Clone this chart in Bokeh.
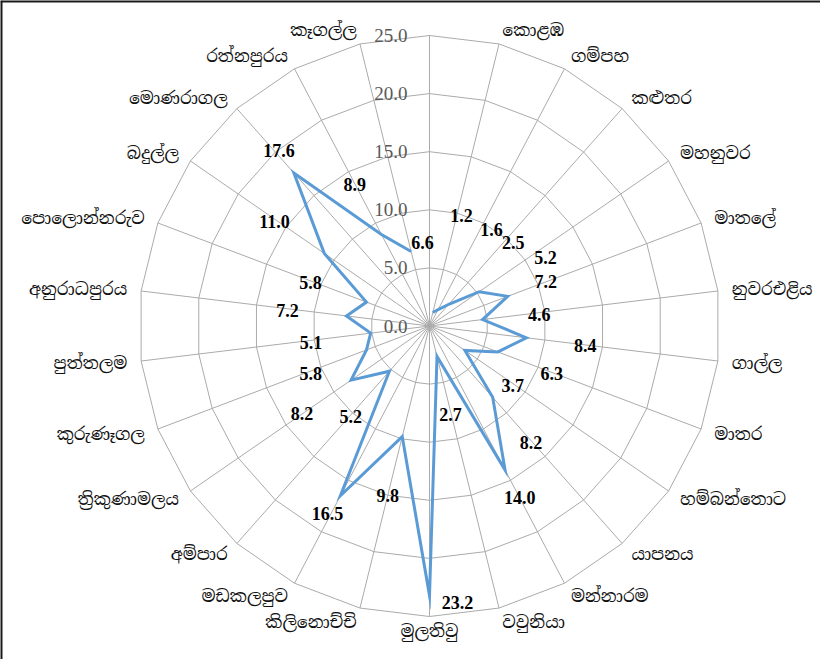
import numpy as np
from bokeh.plotting import figure
from bokeh.models import Range1d, Span
from bokeh.core.properties import value
from bokeh.embed import file_html
from bokeh.resources import INLINE

# ---- data (first slot is the blank top spoke of the source chart) ----
categories = ["", "කොළඹ", "ගම්පහ", "කළුතර", "මහනුවර", "මාතලේ", "නුවරඑළිය",
              "ගාල්ල", "මාතර", "හම්බන්තොට", "යාපනය", "මන්නාරම", "වවුනියා",
              "මුලතිවු", "කිලිනොච්චි", "මඩකලපුව", "අම්පාර", "ත්‍රිකුණාමලය",
              "කුරුණෑගල", "පුත්තලම", "අනුරාධපුරය", "පොලොන්නරුව", "බදුල්ල",
              "මොණරාගල", "රත්නපුරය", "කෑගල්ල"]
values = [None, 1.2, 1.6, 2.5, 5.2, 7.2, 4.6, 8.4, 6.3, 3.7, 8.2, 14.0, 2.7,
          23.2, 9.8, 16.5, 5.2, 8.2, 5.8, 5.1, 7.2, 5.8, 11.0, 17.6, 8.9, 6.6]
ticks = [0, 5, 10, 15, 20, 25]
tick_labels = ["0.0", "5.0", "10.0", "15.0", "20.0", "25.0"]

# ---- layout of the (hand-placed) data labels: radius in value units, angle in degrees ----
label_r = [None, 9.86, 9.9, 10.2, 11.6, 10.7, 9.5, 13.5, 11.3, 8.8, 13.3, 16.7, 7.8,
           23.9, 15.0, 18.4, 10.3, 13.3, 11.0, 10.3, 12.3, 10.9, 16.1, 19.9, 13.8, 7.2]
label_deg = [None, 16.2, 32.6, 45, 59.4, 69.2, 83.8, 97, 111.3, 125.4, 139, 152.3, 166.6,
             174.2, 193.9, 208.5, 221.1, 235.6, 248.4, 262.3, 276.4, 289.9, 304, 319.4,
             332.2, 355.2]

n = len(categories)
ang = np.arange(n) * 2 * np.pi / n          # clockwise from top
sx, cy = np.sin(ang), np.cos(ang)
rmax = ticks[-1]

W, H = 820, 659
scale = 290.5 / rmax          # px per unit
cx_px, cy_px = 429, 325.5      # centre inside the figure
p = figure(width=W, height=H,
           x_range=Range1d(-cx_px / scale, (W - cx_px) / scale),
           y_range=Range1d(-(H - cy_px) / scale, cy_px / scale),
           x_axis_type=None, y_axis_type=None,
           output_backend="svg", toolbar_location=None, min_border=0)
p.grid.visible = False
p.outline_line_color = None
p.background_fill_color = "white"
p.border_fill_color = "white"

grid_col = "#ababab"
# spokes
p.segment(x0=0, y0=0, x1=rmax * sx, y1=rmax * cy, line_color=grid_col, line_width=1)
# rings
for t in ticks[1:]:
    p.line(np.append(t * sx, t * sx[0]), np.append(t * cy, t * cy[0]),
           line_color=grid_col, line_width=1)

# radial tick labels
p.text(x=[0] * len(ticks), y=ticks, text=tick_labels, x_offset=-22,
       text_align="right", text_baseline="middle",
       text_font=value("Liberation Serif"), text_font_size="19px", text_color="#595959")

# series line (gap at the blank slot)
v = np.array([np.nan if x is None else x for x in values], dtype=float)
xs = np.append(v * sx, v[0] * sx[0])
ys = np.append(v * cy, v[0] * cy[0])
p.line(xs, ys, line_color="#5b9bd5", line_width=3, line_join="miter")

# data labels
lx, ly, lt = [], [], []
for i in range(n):
    if values[i] is None:
        continue
    a = np.deg2rad(label_deg[i])
    lx.append(label_r[i] * np.sin(a))
    ly.append(label_r[i] * np.cos(a))
    lt.append(f"{values[i]:.1f}")
p.text(x=lx, y=ly, text=lt, text_align="center", text_baseline="middle",
       text_font=value("Liberation Serif"), text_font_style="bold",
       text_font_size="18px", text_color="black")

# category labels
Rl = rmax + 14 / scale
for side, cond in (("left", sx > 0.01), ("right", sx < -0.01), ("center", np.abs(sx) <= 0.01)):
    idx = [i for i in range(n) if cond[i] and categories[i]]
    if not idx:
        continue
    p.text(x=[Rl * sx[i] for i in idx], y=[Rl * cy[i] for i in idx],
           text=[categories[i] for i in idx], text_align=side, text_baseline="middle",
           text_font=value("Noto Serif Sinhala, Noto Sans Sinhala, serif"),
           text_font_size="17px", text_color="#111111")

# frame border (top and left edges, as in the cropped source)
p.add_layout(Span(location=p.x_range.start, dimension="height", line_color="#1a1a1a", line_width=4))
p.add_layout(Span(location=p.y_range.end, dimension="width", line_color="#1a1a1a", line_width=4))

open("out.html", "w").write(file_html(p, INLINE))
